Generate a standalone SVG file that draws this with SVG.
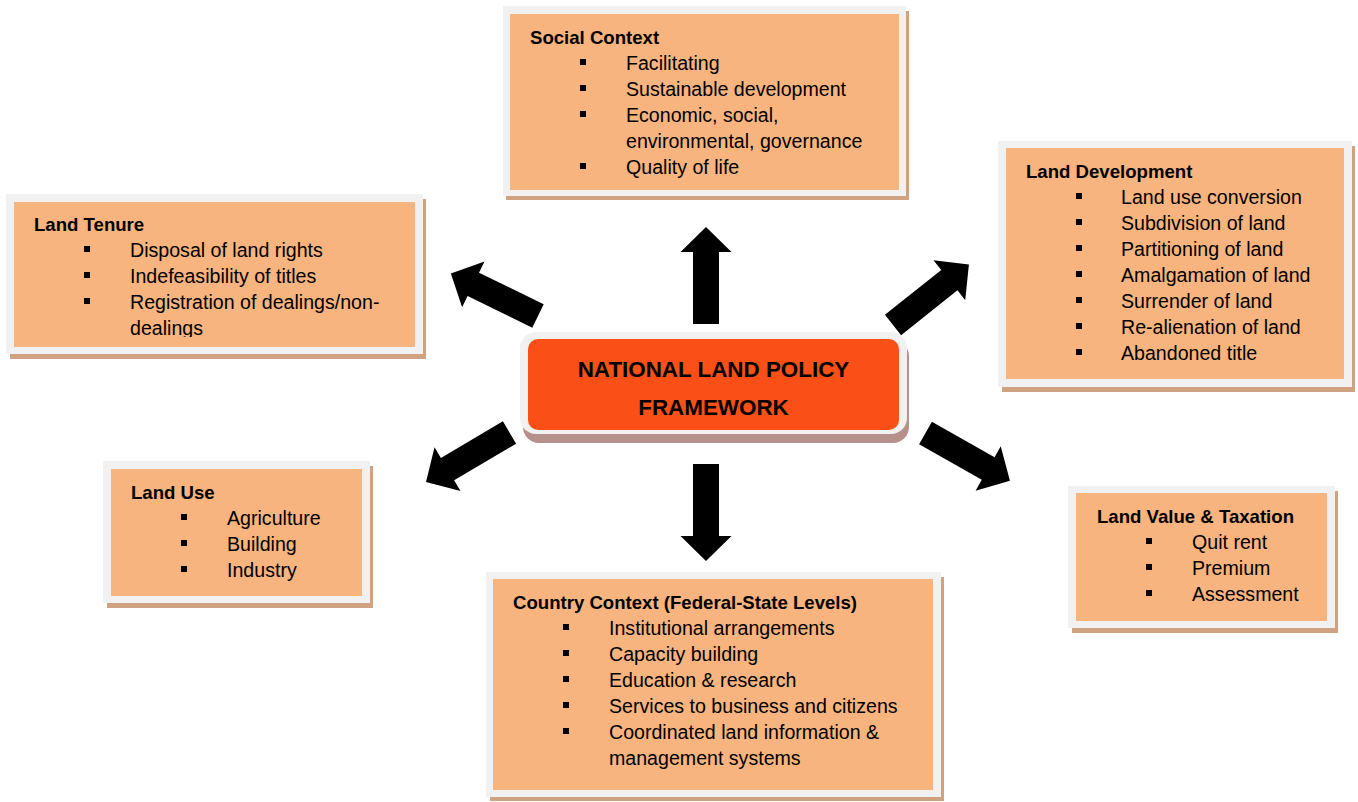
<svg xmlns="http://www.w3.org/2000/svg" width="1358" height="802" viewBox="0 0 1358 802">
<style>
.frame{fill:#f1f1f1}
.shadow{fill:#cfa282}
.body{fill:#f8b47e}
.hd{font-family:"Liberation Sans",Arial,sans-serif;font-size:18.6px;font-weight:bold;fill:#000}
.it{font-family:"Liberation Sans",Arial,sans-serif;font-size:19.6px;fill:#000}
.bl{fill:#000}
.ctr{font-family:"Liberation Sans",Arial,sans-serif;font-size:22.4px;font-weight:bold;fill:#000;text-anchor:middle}
</style>
<defs>
<path id="arrow" d="M0,-13 L72,-13 L72,-25.5 L97,0 L72,25.5 L72,13 L0,13 Z" fill="#000"/>
<clipPath id="clipTenure"><rect x="14" y="202" width="401" height="135"/></clipPath>
</defs>
<rect width="1358" height="802" fill="#fff"/>

<g id="connectors">
<use href="#arrow" transform="translate(706,324) rotate(-90)"/>
<use href="#arrow" transform="translate(706,464) rotate(90)"/>
<use href="#arrow" transform="translate(538,316) rotate(-153.96)"/>
<use href="#arrow" transform="translate(893,325) rotate(-38.5)"/>
<use href="#arrow" transform="translate(925.5,433) rotate(29.5)"/>
<use href="#arrow" transform="translate(509.5,432.5) rotate(149.4)"/>
</g>

<g id="center">
<rect x="523" y="340" width="386" height="103" rx="16" fill="#b6918c"/>
<rect x="520" y="332" width="387" height="102" rx="16" fill="#f1f1f1"/>
<rect x="528" y="339" width="371" height="91" rx="10" fill="#fa4f17"/>
<text class="ctr" x="713.5" y="377">NATIONAL LAND POLICY</text>
<text class="ctr" x="713.5" y="415">FRAMEWORK</text>
</g>

<g id="social-context">
<rect class="shadow" x="506" y="11" width="403" height="189"/>
<rect class="frame" x="503" y="6" width="403" height="190"/>
<rect class="body" x="510" y="14" width="389" height="176"/>
<text class="hd" x="530" y="44">Social Context</text>
<rect class="bl" x="580" y="59" width="6" height="6"/>
<text class="it" x="626" y="70">Facilitating</text>
<rect class="bl" x="580" y="85" width="6" height="6"/>
<text class="it" x="626" y="96">Sustainable development</text>
<rect class="bl" x="580" y="111" width="6" height="6"/>
<text class="it" x="626" y="122">Economic, social,</text>
<text class="it" x="626" y="148">environmental, governance</text>
<rect class="bl" x="580" y="163" width="6" height="6"/>
<text class="it" x="626" y="174">Quality of life</text>
</g>

<g id="land-tenure">
<rect class="shadow" x="10" y="199" width="416" height="160"/>
<rect class="frame" x="6" y="194" width="417" height="160"/>
<rect class="body" x="14" y="202" width="401" height="145"/>
<g clip-path="url(#clipTenure)">
<text class="hd" x="34" y="231">Land Tenure</text>
<rect class="bl" x="84" y="246" width="6" height="6"/>
<text class="it" x="130" y="257">Disposal of land rights</text>
<rect class="bl" x="84" y="272" width="6" height="6"/>
<text class="it" x="130" y="283">Indefeasibility of titles</text>
<rect class="bl" x="84" y="298" width="6" height="6"/>
<text class="it" x="130" y="309">Registration of dealings/non-</text>
<text class="it" x="130" y="335">dealings</text>
</g>
</g>

<g id="land-development">
<rect class="shadow" x="1002" y="146" width="353" height="246"/>
<rect class="frame" x="998" y="141" width="354" height="246"/>
<rect class="body" x="1006" y="148" width="338" height="231"/>
<text class="hd" x="1026" y="178">Land Development</text>
<rect class="bl" x="1076" y="193" width="6" height="6"/>
<text class="it" x="1121" y="204">Land use conversion</text>
<rect class="bl" x="1076" y="219" width="6" height="6"/>
<text class="it" x="1121" y="230">Subdivision of land</text>
<rect class="bl" x="1076" y="245" width="6" height="6"/>
<text class="it" x="1121" y="256">Partitioning of land</text>
<rect class="bl" x="1076" y="271" width="6" height="6"/>
<text class="it" x="1121" y="282">Amalgamation of land</text>
<rect class="bl" x="1076" y="297" width="6" height="6"/>
<text class="it" x="1121" y="308">Surrender of land</text>
<rect class="bl" x="1076" y="323" width="6" height="6"/>
<text class="it" x="1121" y="334">Re-alienation of land</text>
<rect class="bl" x="1076" y="349" width="6" height="6"/>
<text class="it" x="1121" y="360">Abandoned title</text>
</g>

<g id="land-use">
<rect class="shadow" x="107" y="466" width="266" height="142"/>
<rect class="frame" x="103" y="461" width="267" height="142"/>
<rect class="body" x="111" y="469" width="251" height="127"/>
<text class="hd" x="131" y="499">Land Use</text>
<rect class="bl" x="181" y="514" width="6" height="6"/>
<text class="it" x="227" y="525">Agriculture</text>
<rect class="bl" x="181" y="540" width="6" height="6"/>
<text class="it" x="227" y="551">Building</text>
<rect class="bl" x="181" y="566" width="6" height="6"/>
<text class="it" x="227" y="577">Industry</text>
</g>

<g id="land-value-taxation">
<rect class="shadow" x="1072" y="491" width="266" height="142"/>
<rect class="frame" x="1068" y="486" width="267" height="142"/>
<rect class="body" x="1076" y="493" width="251" height="128"/>
<text class="hd" x="1097" y="523">Land Value &amp; Taxation</text>
<rect class="bl" x="1146" y="538" width="6" height="6"/>
<text class="it" x="1192" y="549">Quit rent</text>
<rect class="bl" x="1146" y="564" width="6" height="6"/>
<text class="it" x="1192" y="575">Premium</text>
<rect class="bl" x="1146" y="590" width="6" height="6"/>
<text class="it" x="1192" y="601">Assessment</text>
</g>

<g id="country-context">
<rect class="shadow" x="490" y="577" width="454" height="224"/>
<rect class="frame" x="486" y="572" width="455" height="225"/>
<rect class="body" x="493" y="579" width="440" height="211"/>
<text class="hd" x="513" y="609">Country Context (Federal-State Levels)</text>
<rect class="bl" x="563" y="624" width="6" height="6"/>
<text class="it" x="609" y="635">Institutional arrangements</text>
<rect class="bl" x="563" y="650" width="6" height="6"/>
<text class="it" x="609" y="661">Capacity building</text>
<rect class="bl" x="563" y="676" width="6" height="6"/>
<text class="it" x="609" y="687">Education &amp; research</text>
<rect class="bl" x="563" y="702" width="6" height="6"/>
<text class="it" x="609" y="713">Services to business and citizens</text>
<rect class="bl" x="563" y="728" width="6" height="6"/>
<text class="it" x="609" y="739">Coordinated land information &amp;</text>
<text class="it" x="609" y="765">management systems</text>
</g>
</svg>
